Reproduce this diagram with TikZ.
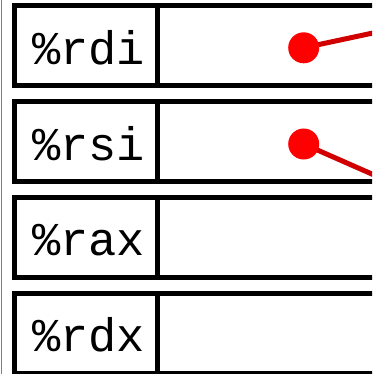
\documentclass[tikz,border=0pt]{standalone}
\usepackage{fontspec}
\newfontfamily\regfont{Liberation Mono}
\definecolor{ptrred}{RGB}{255,0,0}
\definecolor{ptrline}{RGB}{208,0,0}
\newcommand{\regtext}[1]{\hspace*{6pt}#1}
\begin{document}
\begin{tikzpicture}[x=1pt,y=-1pt,
  regname/.style={draw=black,line width=5pt,outer sep=0pt,inner sep=0pt,
    minimum width=143.3pt,minimum height=80pt,text height=37pt,text depth=0pt,
    font=\regfont\fontsize{47}{47}\selectfont},
  regval/.style={draw=black,line width=5pt,outer sep=0pt,inner sep=0pt,
    minimum width=260pt,minimum height=80pt,anchor=west},
  ptrdot/.style={circle,fill=ptrred,inner sep=0pt,minimum size=31pt},
  ptrarrow/.style={draw=ptrline,line width=5pt}]
  \useasboundingbox (0,0) rectangle (372,374);
  \clip (0,0) rectangle (372,374);
  \fill[white] (0,0) rectangle (372,374);
  % thin rule along the left margin
  \draw[gray,line width=1.2pt] (1.6,0) -- (1.6,374);
  % register rows: name cell and value cell
  \node[regname] (rdi) at (85.8,45.8) {\regtext{\%rdi}};
  \node[regval] (rdiv) at (rdi.east) {};
  \node[regname] (rsi) at (85.8,141.8) {\regtext{\%rsi}};
  \node[regval] (rsiv) at (rsi.east) {};
  \node[regname] (rax) at (85.8,237.3) {\regtext{\%rax}};
  \node[regval] (raxv) at (rax.east) {};
  \node[regname] (rdx) at (85.8,333.3) {\regtext{\%rdx}};
  \node[regval] (rdxv) at (rdx.east) {};
  % pointer values leaving the registers
  \coordinate (rdip) at (303.7,47.8);
  \coordinate (rsip) at (303.7,144);
  \coordinate (rdiout) at (400,27.2);
  \coordinate (rsiout) at (400,186.4);
  \draw[ptrarrow] (rdip) -- (rdiout);
  \draw[ptrarrow] (rsip) -- (rsiout);
  \node[ptrdot] (rdidot) at (rdip) {};
  \node[ptrdot] (rsidot) at (rsip) {};
\end{tikzpicture}
\end{document}
